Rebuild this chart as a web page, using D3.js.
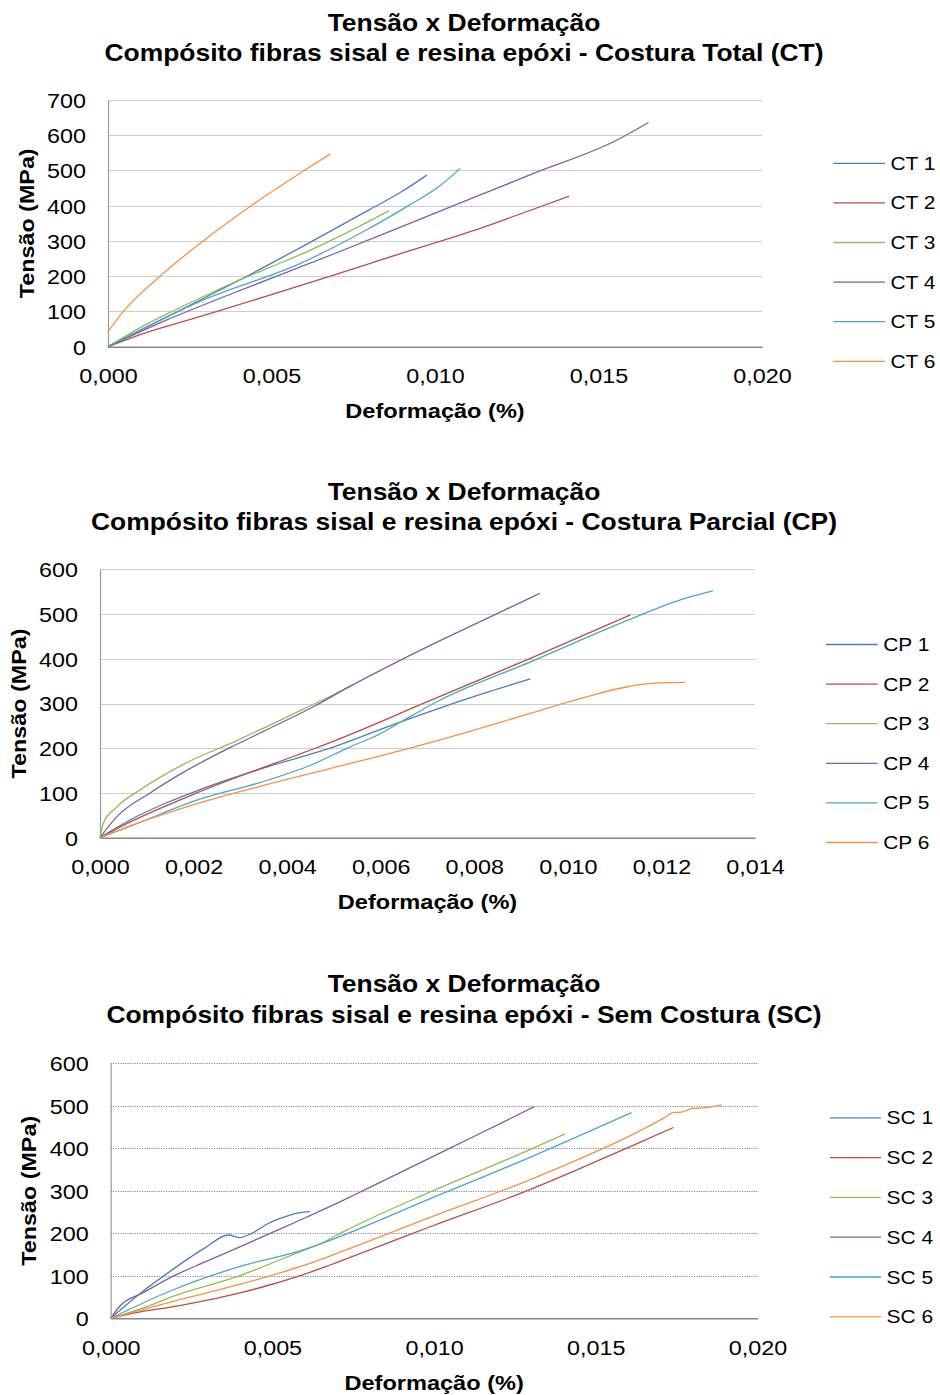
<!DOCTYPE html>
<html>
<head>
<meta charset="utf-8">
<script src="https://cdn.jsdelivr.net/npm/d3@7"></script>
<style>
  html, body { margin: 0; padding: 0; background: #fff; }
  svg { display: block; }
</style>
</head>
<body>
<svg id="fig" width="940" height="1395"></svg>
<script>
// ---------- data: tensile curves, [strain, stress MPa] ----------
// Costura Total (CT)
const ctNames = ["CT 1", "CT 2", "CT 3", "CT 4", "CT 5", "CT 6"];
const ct1 = [[0,0],[0.001,47],[0.002,94],[0.003,141],[0.004,188],[0.005,237],[0.006,287],[0.007,338],[0.008,389],[0.009,441],[0.00975,487]];
const ct2 = [[0,0],[0.0008,28],[0.0028,85],[0.0049,145],[0.0069,203],[0.0089,263],[0.0111,327],[0.0125,373],[0.0141,427]];
const ct3 = [[0,0],[0.001,55],[0.002,102],[0.003,146],[0.004,188],[0.005,227],[0.0059,262],[0.0074,328],[0.0086,386]];
const ct4 = [[0,0],[0.0018,76],[0.0038,151],[0.0069,263],[0.0087,330],[0.0111,420],[0.013,491],[0.0156,588],[0.01653,636]];
const ct5 = [[0,0],[0.001,48],[0.0028,128],[0.0059,237],[0.0079,331],[0.0092,401],[0.0101,453],[0.01077,506]];
const ct6 = [[0,42],[0.00047,100],[0.00159,200],[0.00291,300],[0.0043,395],[0.006,500],[0.0068,547]];
const ctTicksX = [0, 0.005, 0.010, 0.015, 0.020];
const ctTicksY = [0, 100, 200, 300, 400, 500, 600, 700];

// Costura Parcial (CP)
const cpNames = ["CP 1", "CP 2", "CP 3", "CP 4", "CP 5", "CP 6"];
const cp1 = [[0,0],[0.0007,43],[0.0014,77],[0.0021,106],[0.0036,159],[0.005,203],[0.0063,254],[0.0083,326],[0.0092,355]];
const cp2 = [[0,0],[0.0007,38],[0.00207,100],[0.0046,200],[0.0049,212],[0.007,304],[0.0092,401],[0.01134,498]];
const cp3 = [[0,0],[0.00007,32],[0.00036,69],[0.00086,107],[0.0018,165],[0.0029,216],[0.0036,250],[0.0043,285],[0.0049,315],[0.0054,341]];
const cp4 = [[0,0],[0.00036,47],[0.00107,100],[0.00178,146],[0.00285,205],[0.0036,243],[0.0046,295],[0.0053,336],[0.0065,401],[0.0079,472],[0.0094,546]];
const cp5 = [[0,0],[0.0007,28],[0.0021,85],[0.0036,129],[0.0045,162],[0.0053,201],[0.006,233],[0.0065,263],[0.0072,304],[0.0092,393],[0.0113,487],[0.0125,535],[0.0131,552]];
const cp6 = [[0,0],[0.001,40],[0.0021,77],[0.0035,117],[0.0049,154],[0.007,211],[0.0092,278],[0.0103,312],[0.0113,338],[0.0118,345],[0.0125,347]];
const cpTicksX = [0, 0.002, 0.004, 0.006, 0.008, 0.010, 0.012, 0.014];
const cpTicksY = [0, 100, 200, 300, 400, 500, 600];

// Sem Costura (SC)
const scNames = ["SC 1", "SC 2", "SC 3", "SC 4", "SC 5", "SC 6"];
const sc1 = [[0,0],[0.00085,55],[0.0019,114],[0.0029,165],[0.00364,196],[0.004,190],[0.00436,200],[0.00487,223],[0.0054,239],[0.0058,248],[0.00616,251]];
const sc2 = [[0,0],[0.0007,12],[0.0019,27],[0.0039,58],[0.0048,76],[0.006,104],[0.0068,126],[0.0091,193],[0.0099,216],[0.013,304],[0.0145,352],[0.0161,405],[0.0174,449]];
const sc3 = [[0,0],[0.0012,30],[0.0019,51],[0.0039,98],[0.006,161],[0.0065,176],[0.0072,204],[0.0099,298],[0.013,398],[0.01405,434]];
const sc4 = [[0,0],[0.0003,30],[0.001,60],[0.0019,98],[0.0029,132],[0.0039,165],[0.005,202],[0.006,236],[0.0072,278],[0.0079,304],[0.0104,397],[0.0111,423],[0.0131,498]];
const sc5 = [[0,0],[0.0019,66],[0.0039,120],[0.006,162],[0.0068,184],[0.0099,282],[0.013,380],[0.0161,484]];
const sc6 = [[0,0],[0.0019,39],[0.0039,78],[0.0048,97],[0.006,125],[0.0068,147],[0.0099,238],[0.013,327],[0.015,392],[0.0161,431],[0.0171,471],[0.0174,484],[0.01765,485],[0.018,494],[0.0184,495.5],[0.0189,502]];
const scTicksX = [0, 0.005, 0.010, 0.015, 0.020];
const scTicksY = [0, 100, 200, 300, 400, 500, 600];

const seriesColors = ["#4A7EBB", "#BE4B48", "#98B954", "#7D60A0", "#46AAC5", "#F69240"];
const titleLine1 = "Tensão x Deformação";
const yTitle = "Tensão (MPa)";
const xTitle = "Deformação (%)";

// ---------- drawing ----------
const FONT = "'Liberation Sans', Arial, Helvetica, sans-serif";
const SX = 1.15;          // horizontal glyph stretch
const svg = d3.select("#fig");
svg.append("rect").attr("width", 940).attr("height", 1395).attr("fill", "#fff");

const fmtComma = v => d3.format(".3f")(v).replace(".", ",");

function label(g, txt, x, y, size, weight, anchor, rotate) {
  return g.append("text")
    .attr("transform", `translate(${x},${y})` + (rotate ? ` rotate(${rotate})` : "") + ` scale(${SX},1)`)
    .attr("text-anchor", anchor)
    .attr("font-family", FONT)
    .attr("font-size", size)
    .attr("font-weight", weight)
    .attr("fill", "#000")
    .text(txt);
}

function drawChart(cfg) {
  const g = svg.append("g");
  const x = d3.scaleLinear().domain([cfg.ticksX[0], cfg.ticksX[cfg.ticksX.length - 1]]).range([cfg.x0, cfg.x1]);
  const y = d3.scaleLinear().domain([cfg.ticksY[0], cfg.ticksY[cfg.ticksY.length - 1]]).range([cfg.yb, cfg.yt]);

  // titles
  label(g, titleLine1, 464, cfg.title1, 23, "bold", "middle");
  label(g, cfg.title2, 464, cfg.title1 + 30.3, 23, "bold", "middle");

  // horizontal gridlines
  g.append("g").selectAll("line")
    .data(cfg.ticksY.filter(v => v > 0))
    .join("line")
    .attr("x1", cfg.x0).attr("x2", cfg.x1)
    .attr("y1", d => Math.round(y(d)) + 0.5).attr("y2", d => Math.round(y(d)) + 0.5)
    .attr("stroke", cfg.dotted ? "#8a8a8a" : "#cdcdcd")
    .attr("stroke-width", 1.2)
    .attr("stroke-dasharray", cfg.dotted ? "1.2,1.2" : null);

  // y axis
  const yAxis = d3.axisLeft(y).tickValues(cfg.ticksY).tickSize(0).tickFormat(d3.format("d"));
  const ya = g.append("g").attr("transform", `translate(${cfg.x0},0)`).call(yAxis);
  ya.select(".domain").attr("stroke", "#9a9a9a").attr("stroke-width", 1.2);
  ya.selectAll("text")
    .attr("x", null).attr("dy", null)
    .attr("transform", `translate(-22,7.3) scale(${SX},1)`)
    .attr("font-family", FONT).attr("font-size", 20.3).attr("fill", "#000");

  // x axis
  const xAxis = d3.axisBottom(x).tickValues(cfg.ticksX).tickSize(0).tickFormat(fmtComma);
  const xa = g.append("g").attr("transform", `translate(0,${cfg.yb})`).call(xAxis);
  xa.select(".domain").attr("stroke", "#868686").attr("stroke-width", 1.6);
  xa.selectAll("text")
    .attr("y", null).attr("dy", null)
    .attr("transform", `translate(0,36.3) scale(${SX},1)`)
    .attr("font-family", FONT).attr("font-size", 20.3).attr("fill", "#000");

  // axis titles
  label(g, xTitle, (cfg.x0 + cfg.x1) / 2, cfg.yb + 71.5, 20.5, "bold", "middle");
  label(g, yTitle, cfg.x0 - 74.5, (cfg.yt + cfg.yb) / 2, 20.3, "bold", "middle", -90);

  // curves
  const line = d3.line().x(d => x(d[0])).y(d => y(d[1])).curve(d3.curveMonotoneX);
  g.append("g").selectAll("path")
    .data(cfg.series)
    .join("path")
    .attr("d", d => line(d))
    .attr("fill", "none")
    .attr("stroke", (d, i) => seriesColors[i])
    .attr("stroke-width", 1.3)
    .attr("stroke-linejoin", "round");

  // legend
  const lg = g.append("g").selectAll("g")
    .data(cfg.names)
    .join("g")
    .attr("transform", (d, i) => `translate(0,${cfg.legY + i * cfg.legStep})`);
  lg.append("line")
    .attr("x1", cfg.legX0).attr("x2", cfg.legX1)
    .attr("y1", 0).attr("y2", 0)
    .attr("stroke", (d, i) => seriesColors[i])
    .attr("stroke-width", 1.3);
  lg.each(function(d) {
    label(d3.select(this), d, cfg.legX1 + 5.5, 6.5, 18.2, "normal", "start");
  });
}

drawChart({
  title1: 30.7, title2: "Compósito fibras sisal e resina epóxi - Costura Total (CT)",
  x0: 108, x1: 762, yt: 100, yb: 346.7,
  ticksX: ctTicksX, ticksY: ctTicksY,
  series: [ct1, ct2, ct3, ct4, ct5, ct6], names: ctNames,
  legX0: 833.3, legX1: 885, legY: 163.3, legStep: 39.6
});

drawChart({
  title1: 500, title2: "Compósito fibras sisal e resina epóxi - Costura Parcial (CP)",
  x0: 100, x1: 755, yt: 569.3, yb: 837.7,
  ticksX: cpTicksX, ticksY: cpTicksY,
  series: [cp1, cp2, cp3, cp4, cp5, cp6], names: cpNames,
  legX0: 826, legX1: 877.7, legY: 644.5, legStep: 39.6
});

drawChart({
  title1: 992.3, title2: "Compósito fibras sisal e resina epóxi - Sem Costura (SC)",
  x0: 110.7, x1: 757.5, yt: 1063.3, yb: 1318.3,
  ticksX: scTicksX, ticksY: scTicksY,
  series: [sc1, sc2, sc3, sc4, sc5, sc6], names: scNames,
  legX0: 830, legX1: 881, legY: 1117.8, legStep: 39.8,
  dotted: true
});
</script>
</body>
</html>
